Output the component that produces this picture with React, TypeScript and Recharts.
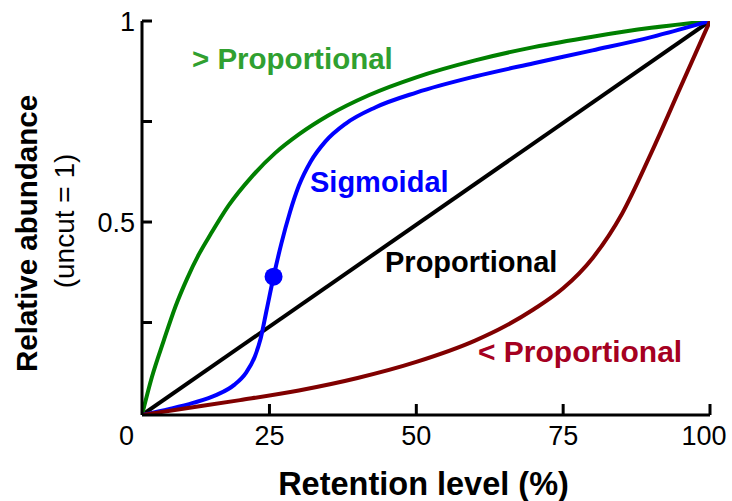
import { ComposedChart, Line, ReferenceDot, XAxis, YAxis } from "recharts";

// retention level (%) / relative abundance
const aboveX = [3.3, 5, 7, 9, 11, 13, 15, 18, 22, 26, 30, 35, 42, 50, 60, 70, 80, 90, 100];
const aboveY = [0.02, 0.115, 0.205, 0.29, 0.36, 0.42, 0.47, 0.54, 0.613, 0.672, 0.718, 0.765, 0.816, 0.86, 0.902, 0.935, 0.961, 0.983, 1];

const sigmoidX = [3.3, 8, 12, 16, 19, 21, 22.5, 23.5, 24.5, 25.7, 27, 28.5, 30, 32, 34.5, 38, 43, 50, 60, 70, 80, 90, 100];
const sigmoidY = [0.02, 0.035, 0.05, 0.07, 0.095, 0.125, 0.165, 0.21, 0.28, 0.364, 0.445, 0.525, 0.59, 0.65, 0.7, 0.745, 0.785, 0.822, 0.862, 0.895, 0.927, 0.96, 1];

const propX = [3.3, 100];
const propY = [0.02, 1];

const belowX = [3.3, 10, 20, 30, 40, 50, 60, 65, 70, 75, 80, 85, 90, 95, 100];
const belowY = [0.02, 0.035, 0.057, 0.081, 0.112, 0.152, 0.205, 0.24, 0.283, 0.335, 0.41, 0.52, 0.672, 0.836, 1];

const markerX = 25.7;
const markerY = 0.364;

const xTicks = [0, 25, 50, 75, 100];
const yTicks = [0.25, 0.5, 0.75, 1];
const yLabels: Record<string, string> = { "0.5": "0.5", "1": "1" };

const xDomain = [3.3, 100];
const yDomain = [0.02, 1];

const FONT = "'Liberation Sans', Arial, Helvetica, sans-serif";

const zip = (xs: number[], ys: number[]) => xs.map((x, i) => ({ x, y: ys[i] }));

function XTick(props: any) {
  const { x, y, payload } = props;
  const v = payload.value;
  const shift = v === 0 ? 4 : v === 100 ? -6 : 0;
  return (
    <g>
      {v >= xDomain[0] && (
        <line x1={x} x2={x} y1={y} y2={y - 11} stroke="#000" strokeWidth={3} />
      )}
      <text x={x + shift} y={y + 30} textAnchor="middle" fontSize={27} fill="#000" fontFamily={FONT}>
        {v}
      </text>
    </g>
  );
}

function YTick(props: any) {
  const { x, y, payload } = props;
  const label = yLabels[String(payload.value)];
  return (
    <g>
      <line x1={x} x2={x + 10} y1={y} y2={y} stroke="#000" strokeWidth={3} />
      {label && (
        <text x={x - 7} y={y + 10} textAnchor="end" fontSize={27} fill="#000" fontFamily={FONT}>
          {label}
        </text>
      )}
    </g>
  );
}

export default function App() {
  return (
    <div style={{ position: "absolute", left: 0, top: 0, width: 732, height: 501, fontFamily: FONT }}>
      <ComposedChart width={732} height={501} margin={{ top: 21, right: 22, bottom: 0, left: 0 }}>
        <XAxis
          type="number"
          dataKey="x"
          domain={xDomain}
          allowDataOverflow
          ticks={xTicks}
          interval={0}
          tick={<XTick />}
          tickLine={false}
          tickSize={0}
          tickMargin={0}
          height={86}
          axisLine={{ stroke: "#000", strokeWidth: 3 }}
        />
        <YAxis
          type="number"
          dataKey="y"
          domain={yDomain}
          allowDataOverflow
          ticks={yTicks}
          interval={0}
          tick={<YTick />}
          tickLine={false}
          tickSize={0}
          tickMargin={0}
          width={142}
          axisLine={{ stroke: "#000", strokeWidth: 3 }}
        />
        <Line data={zip(propX, propY)} dataKey="y" type="linear" stroke="#000" strokeWidth={4} dot={false} isAnimationActive={false} />
        <Line data={zip(aboveX, aboveY)} dataKey="y" type="monotone" stroke="#008000" strokeWidth={4} dot={false} isAnimationActive={false} />
        <Line data={zip(sigmoidX, sigmoidY)} dataKey="y" type="monotone" stroke="#0000ff" strokeWidth={4} dot={false} isAnimationActive={false} />
        <Line data={zip(belowX, belowY)} dataKey="y" type="monotone" stroke="#800000" strokeWidth={4} dot={false} isAnimationActive={false} />
        <ReferenceDot x={markerX} y={markerY} r={9} fill="#0000ff" stroke="none" />
      </ComposedChart>
      <svg width={732} height={501} style={{ position: "absolute", left: 0, top: 0, pointerEvents: "none" }} fontFamily={FONT}>
        <text x={192} y={69} fontSize={29.5} fontWeight="bold" fill="#30a030">&gt; Proportional</text>
        <text x={310} y={192} fontSize={29} fontWeight="bold" fill="#0000ff">Sigmoidal</text>
        <text x={385} y={272} fontSize={29} fontWeight="bold" fill="#000">Proportional</text>
        <text x={478} y={362} fontSize={30} fontWeight="bold" fill="#a50021">&lt; Proportional</text>
        <text x={423.5} y={495} fontSize={32.5} fontWeight="bold" textAnchor="middle" fill="#000">Retention level (%)</text>
        <text transform="translate(37,372) rotate(-90)" fontSize={29.5} fontWeight="bold" fill="#000">Relative abundance</text>
        <text transform="translate(74,221) rotate(-90)" fontSize={28} textAnchor="middle" fill="#000">(uncut = 1)</text>
      </svg>
    </div>
  );
}
